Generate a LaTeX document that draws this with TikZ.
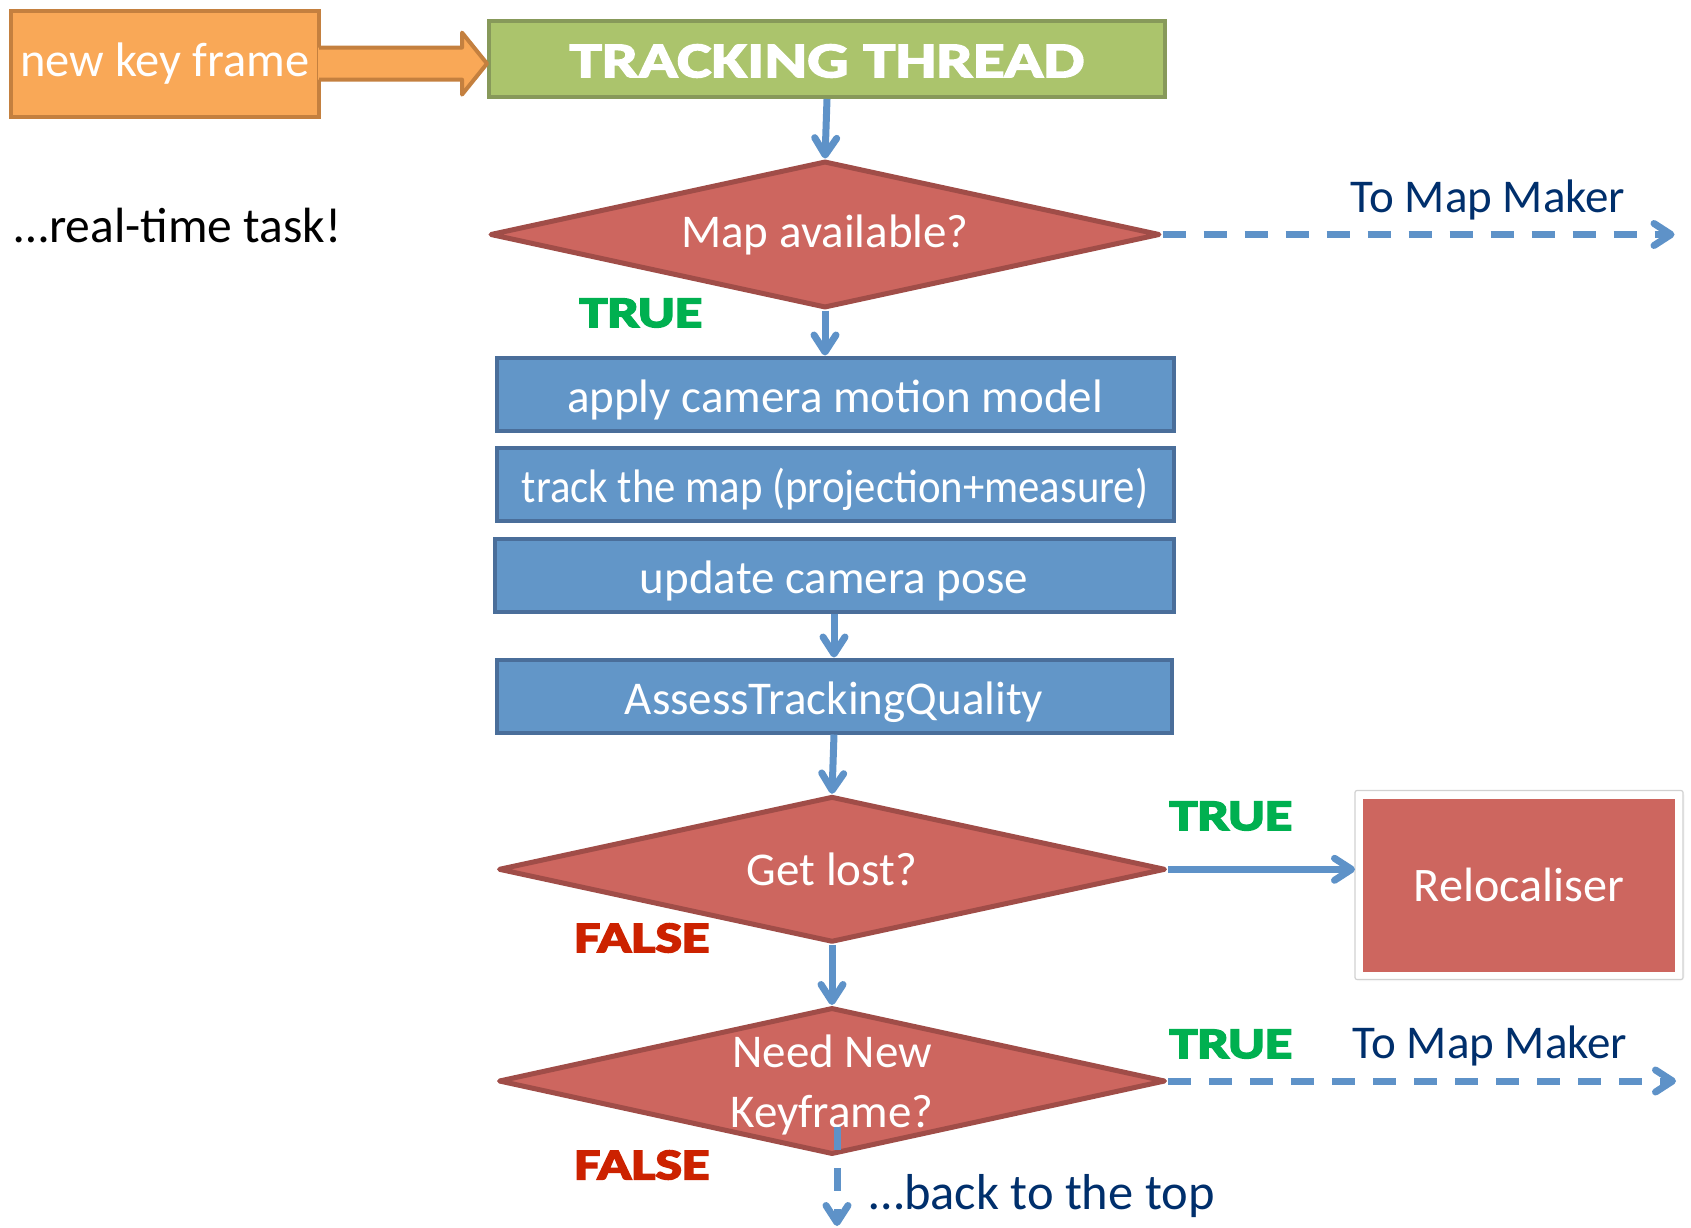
\documentclass[tikz,border=0pt]{standalone}
\usepackage{fontspec}
\setmainfont{Carlito}
\newfontfamily\heavyfont{Carlito}[BoldFeatures={FakeBold=4,FakeStretch=1.3}]
\newfontfamily\titlefont{Carlito}[BoldFeatures={FakeBold=3,FakeStretch=1.3}]
\usetikzlibrary{shapes.geometric,arrows.meta,calc,shadows.blur}

\definecolor{orangefill}{HTML}{F9A857}
\definecolor{orangeedge}{HTML}{C4803F}
\definecolor{greenfill}{HTML}{ABC46C}
\definecolor{greenedge}{HTML}{87995A}
\definecolor{redfill}{HTML}{CD665F}
\definecolor{rededge}{HTML}{A04D48}
\definecolor{bluefill}{HTML}{6296C8}
\definecolor{blueedge}{HTML}{4A6E9A}
\definecolor{arrowblue}{HTML}{5E92C8}
\definecolor{truegreen}{HTML}{00B050}
\definecolor{falsered}{HTML}{CC2200}
\definecolor{navytext}{HTML}{002F6C}

\newcommand{\txtsize}{\fontsize{47}{56}\selectfont}

\begin{document}
\begin{tikzpicture}[x=1pt,y=-1pt,
  every node/.style={font=\txtsize},
  kfbox/.style={rectangle, draw=orangeedge, fill=orangefill, line width=4,
    minimum width=308, minimum height=106, inner sep=0, text=white,
    font=\fontsize{48.5}{56}\selectfont},
  ttbox/.style={rectangle, draw=greenedge, fill=greenfill, line width=4,
    minimum width=676, minimum height=76, inner sep=0},
  titletext/.style={text=white, font=\fontsize{50}{56}\titlefont\bfseries},
  stepbox/.style={rectangle, draw=blueedge, fill=bluefill, line width=4,
    minimum width=677, minimum height=73, inner sep=0, text=white,
    text height=40pt, text depth=4pt},
  decision/.style={diamond, draw=rededge, fill=redfill, line width=5,
    line join=round, inner sep=0},
  dtext/.style={text=white, align=center, font=\fontsize{47}{60}\selectfont},
  reloc/.style={rectangle, draw=white, fill=redfill, line width=8,
    minimum width=320, minimum height=181, inner sep=0, text=white,
    font=\fontsize{48.2}{56}\selectfont,
    blur shadow={shadow xshift=0.8pt, shadow yshift=-0.8pt,
      shadow blur radius=5pt, shadow opacity=40}},
  flow/.style={draw=arrowblue, line width=7,
    -{Straight Barb[length=17pt,width=22pt,line cap=round,line join=round]}},
  dflow/.style={flow, dash pattern=on 23pt off 18pt},
  yes/.style={text=truegreen, font=\fontsize{43.5}{50}\heavyfont\bfseries},
  no/.style={text=falsered, font=\fontsize{43.5}{50}\heavyfont\bfseries},
  note/.style={text=navytext}
]
\useasboundingbox (0,0) rectangle (1691,1228);

% header: incoming key frame and the thread title
\node[kfbox] (nkf) at (165,63.6) {new key frame};
\node[ttbox] (tt) at (827,59) {};
\node[titletext] (ttt) at (827,61) {TRACKING THREAD};

% block arrow from the key frame box into the thread title
\coordinate (tip) at (tt.west |- nkf.east);
\fill[orangefill] ($(nkf.east)+(-3,-16)$) -- ($(tip)+(-25,-16)$) -- ($(tip)+(-25,-31)$)
  -- (tip) -- ($(tip)+(-25,31)$) -- ($(tip)+(-25,16)$) -- ($(nkf.east)+(-3,16)$) -- cycle;
\draw[orangeedge, line width=4, line join=round] ($(nkf.east)+(-2,-16)$) -- ($(tip)+(-25,-16)$)
  -- ($(tip)+(-25,-31)$) -- (tip) -- ($(tip)+(-25,31)$) -- ($(tip)+(-25,16)$)
  -- ($(nkf.east)+(-2,16)$);

\node[font=\fontsize{49.5}{56}\selectfont] (rt) at (178,226) {…real-time task!};

% first decision
\node[decision, minimum width=670, minimum height=147] (d1) at (825,234.5) {};
\node[dtext] (d1t) at (d1) {Map available?};
\coordinate (mm1) at ($(d1.east)+(512,0)$);
\node[note] (tmm1) at (1488,200) {To Map Maker};
\node[yes] (y1) at (641,313) {TRUE};

% processing steps
\node[stepbox] (b1) at (835,394) {apply camera motion model};
\node[stepbox] (b2) at (835,484) {\scalebox{0.91}[1]{track the map (projection+measure)}};
\node[stepbox, minimum width=679] (b3) at (834,575) {update camera pose};
\node[stepbox, minimum width=675] (b4) at (834,696) {AssessTrackingQuality};

% second decision and the relocaliser with its light frame edge
\node[decision, minimum width=667, minimum height=146] (d2) at (832,869.3) {};
\node[dtext] (d2t) at (d2) {Get lost?};
\node[reloc] (rl) at (1519,885) {Relocaliser};
\draw[black!18, line width=1.2, rounded corners=2] (rl.north west) rectangle (rl.south east);
\node[yes] (y2) at (1231,816) {TRUE};
\node[no] (n2) at (642,938) {FALSE};

% third decision
\node[decision, minimum width=667, minimum height=147] (d3) at (832,1081) {};
\node[dtext] (d3t) at ($(d3)+(0,4)$) {Need New\\Keyframe?};
\coordinate (mm2) at ($(d3.east)+(508,0)$);
\node[yes] (y3) at (1231,1044) {TRUE};
\node[note] (tmm2) at (1490,1046) {To Map Maker};
\node[no] (n3) at (642,1165) {FALSE};
\coordinate (loopstart) at ($(d3.south)+(5,-30)$);
\coordinate (loopend) at ($(d3.south)+(5,69)$);
\node[note, font=\fontsize{50.5}{56}\selectfont] (back) at (1042,1196) {…back to the top};

% connectors
\draw[flow] (tt.south) -- (d1.north);
\draw[flow] (d1.south) -- (d1.south |- b1.north);
\draw[dflow] (d1.east) -- (mm1);
\draw[flow] (b3.south) -- (b4.north);
\draw[flow] (b4.south) -- (d2.north);
\draw[flow] (d2.east) -- (d2.east -| rl.west);
\draw[flow] (d2.south) -- (d3.north);
\draw[dflow] (d3.east) -- (mm2);
\draw[dflow] (loopstart) -- (loopend);
\end{tikzpicture}
\end{document}
